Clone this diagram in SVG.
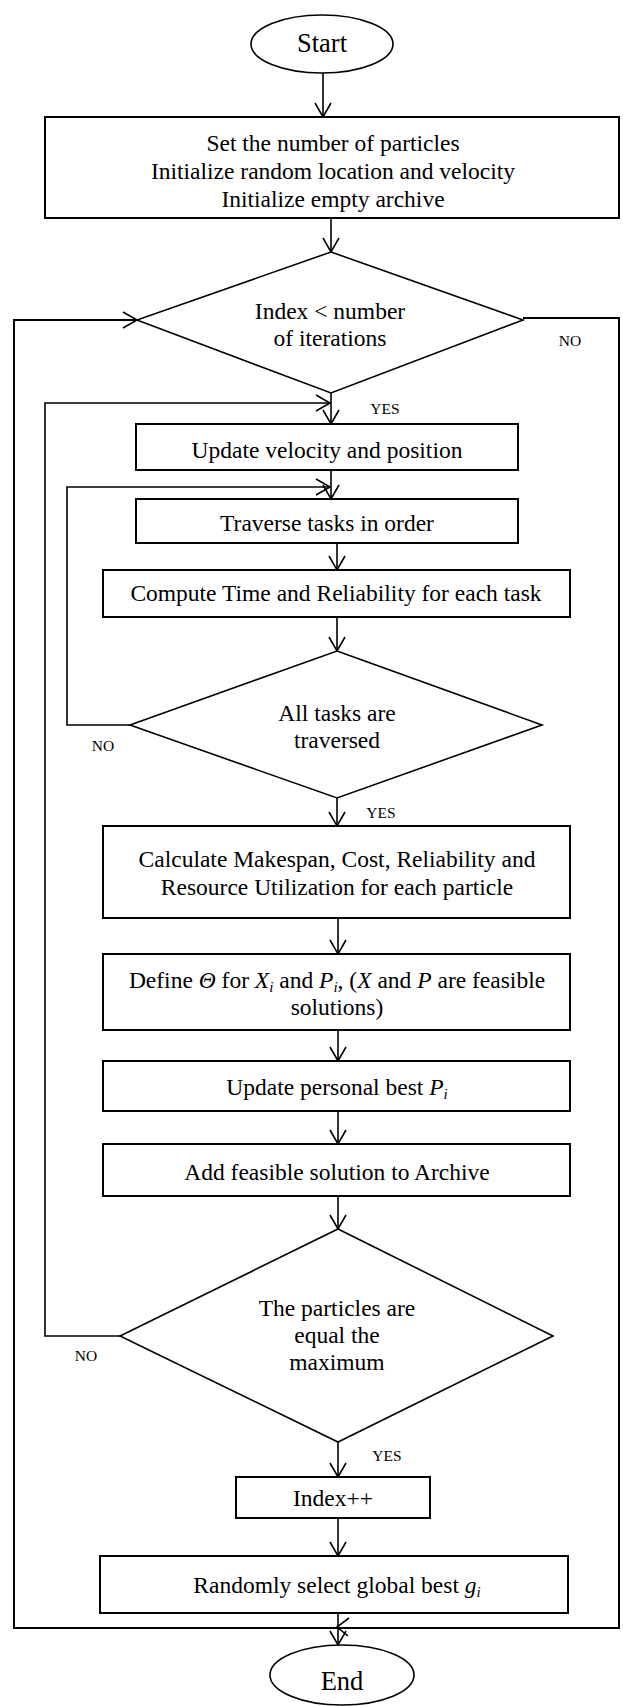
<svg xmlns="http://www.w3.org/2000/svg" width="623" height="1706" viewBox="0 0 623 1706">
<defs>
<style>
.t{font-family:"Liberation Serif","Times New Roman",serif;font-size:23.5px;fill:#000;text-anchor:middle}
.et{font-size:26.5px}
.s{font-family:"Liberation Serif","Times New Roman",serif;font-size:15.5px;fill:#000;text-anchor:middle}
.b{fill:#fff;stroke:#000;stroke-width:2}
.d{fill:#fff;stroke:#000;stroke-width:1.6}
.c{fill:none;stroke:#000;stroke-width:1.6}
.i{font-style:italic}
.sub{font-size:15px;font-style:italic}
</style>
<marker id="arr" markerUnits="userSpaceOnUse" markerWidth="18" markerHeight="18" viewBox="0 0 18 18" refX="15" refY="9" orient="auto" overflow="visible">
<path d="M1,1 L15,9 L1,17" fill="none" stroke="#000" stroke-width="1.6"/>
</marker>
</defs>
<rect width="623" height="1706" fill="#fff"/>

<g id="connectors">
<line class="c" x1="323" y1="73" x2="323" y2="117" marker-end="url(#arr)"/>
<line class="c" x1="331" y1="218" x2="331" y2="252" marker-end="url(#arr)"/>
<line class="c" x1="331" y1="393" x2="331" y2="424" marker-end="url(#arr)"/>
<line class="c" x1="331" y1="470" x2="331" y2="499" marker-end="url(#arr)"/>
<line class="c" x1="337" y1="543" x2="337" y2="570" marker-end="url(#arr)"/>
<line class="c" x1="337" y1="617" x2="337" y2="651" marker-end="url(#arr)"/>
<line class="c" x1="337" y1="798" x2="337" y2="826" marker-end="url(#arr)"/>
<line class="c" x1="338" y1="918" x2="338" y2="954" marker-end="url(#arr)"/>
<line class="c" x1="338" y1="1030" x2="338" y2="1061" marker-end="url(#arr)"/>
<line class="c" x1="338" y1="1111" x2="338" y2="1144" marker-end="url(#arr)"/>
<line class="c" x1="338" y1="1196" x2="338" y2="1229" marker-end="url(#arr)"/>
<line class="c" x1="338" y1="1442" x2="338" y2="1477" marker-end="url(#arr)"/>
<line class="c" x1="338" y1="1518" x2="338" y2="1556" marker-end="url(#arr)"/>
<line class="c" x1="338" y1="1613" x2="338" y2="1645" marker-end="url(#arr)"/>
<!-- outer loop -->
<polyline class="c" points="523,318 619,318 619,1628 14,1628 14,320 137,320" marker-end="url(#arr)" style="stroke-width:2"/>
<path class="c" d="M349,1618 L337,1627 L348,1636"/>
<!-- particles loop -->
<polyline class="c" points="120,1336 45,1336 45,403 330,403" marker-end="url(#arr)"/>
<!-- tasks loop -->
<polyline class="c" points="130,725 67,725 67,487 330,487" marker-end="url(#arr)"/>
<text class="s" x="570" y="346">NO</text>
<text class="s" x="385" y="414">YES</text>
<text class="s" x="103" y="751">NO</text>
<text class="s" x="381" y="818">YES</text>
<text class="s" x="86" y="1361">NO</text>
<text class="s" x="387" y="1461">YES</text>
</g>

<g id="start">
<ellipse class="d" cx="322" cy="44" rx="71" ry="29"/>
<text class="t et" x="322" y="52">Start</text>
</g>
<g id="init">
<rect class="b" x="45" y="117" width="574" height="101"/>
<text class="t" x="333" y="151">Set the number of particles</text>
<text class="t" x="333" y="179">Initialize random location and velocity</text>
<text class="t" x="333" y="207">Initialize empty archive</text>
</g>
<g id="cond-index">
<polygon class="d" points="331,252 523,320 331,393 137,320"/>
<text class="t" x="330" y="319">Index &lt; number</text>
<text class="t" x="330" y="346">of iterations</text>
</g>
<g id="update-velocity">
<rect class="b" x="136" y="424" width="382" height="46"/>
<text class="t" x="327" y="458">Update velocity and position</text>
</g>
<g id="traverse">
<rect class="b" x="136" y="499" width="382" height="44"/>
<text class="t" x="327" y="531">Traverse tasks in order</text>
</g>
<g id="compute">
<rect class="b" x="103" y="570" width="467" height="47"/>
<text class="t" x="336" y="601">Compute Time and Reliability for each task</text>
</g>
<g id="cond-tasks">
<polygon class="d" points="337,651 542,725 337,798 130,725"/>
<text class="t" x="337" y="721">All tasks are</text>
<text class="t" x="337" y="748">traversed</text>
</g>
<g id="calculate">
<rect class="b" x="103" y="826" width="467" height="92"/>
<text class="t" x="337" y="867">Calculate Makespan, Cost, Reliability and</text>
<text class="t" x="337" y="895">Resource Utilization for each particle</text>
</g>
<g id="define">
<rect class="b" x="103" y="954" width="467" height="76"/>
<text class="t" x="337" y="988">Define <tspan class="i">Θ</tspan> for <tspan class="i">X</tspan><tspan class="sub" dy="4">i</tspan><tspan dy="-4"> and </tspan><tspan class="i">P</tspan><tspan class="sub" dy="4">i</tspan><tspan dy="-4">, (</tspan><tspan class="i">X</tspan> and <tspan class="i">P</tspan> are feasible</text>
<text class="t" x="337" y="1015">solutions)</text>
</g>
<g id="personal-best">
<rect class="b" x="103" y="1061" width="467" height="50"/>
<text class="t" x="337" y="1095">Update personal best <tspan class="i">P</tspan><tspan class="sub" dy="4">i</tspan></text>
</g>
<g id="archive">
<rect class="b" x="103" y="1144" width="467" height="52"/>
<text class="t" x="337" y="1180">Add feasible solution to Archive</text>
</g>
<g id="cond-particles">
<polygon class="d" points="338,1229 553,1336 338,1442 120,1336"/>
<text class="t" x="337" y="1316">The particles are</text>
<text class="t" x="337" y="1343">equal the</text>
<text class="t" x="337" y="1370">maximum</text>
</g>
<g id="index-inc">
<rect class="b" x="236" y="1477" width="194" height="41"/>
<text class="t" x="333" y="1506">Index++</text>
</g>
<g id="global-best">
<rect class="b" x="100" y="1556" width="468" height="57"/>
<text class="t" x="337" y="1593">Randomly select global best <tspan class="i">g</tspan><tspan class="sub" dy="4">i</tspan></text>
</g>
<g id="end">
<ellipse class="d" cx="342" cy="1675" rx="72" ry="30"/>
<text class="t et" x="342" y="1690">End</text>
</g>
</svg>
